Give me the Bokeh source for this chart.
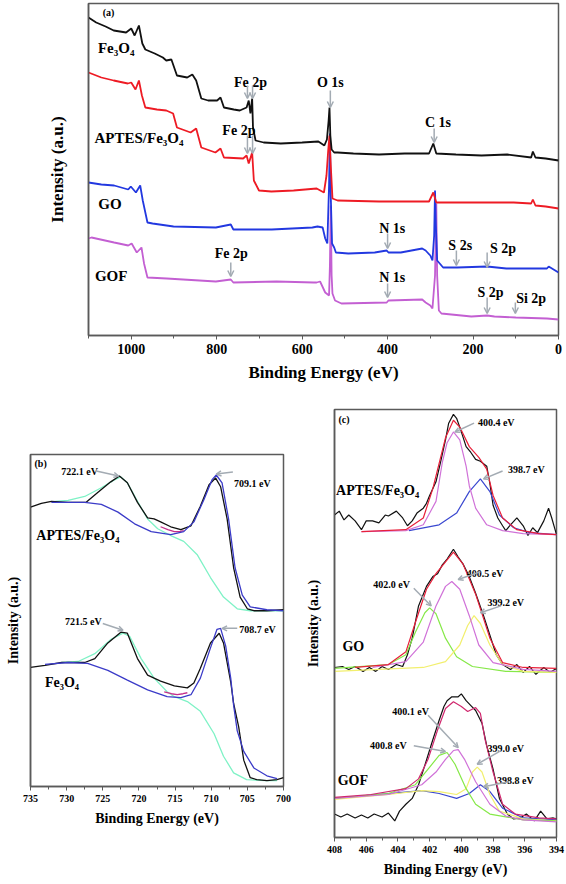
from bokeh.plotting import figure
from bokeh.layouts import column, row
from bokeh.models import Range1d, FixedTicker, Arrow, OpenHead, ColumnDataSource, Spacer
from bokeh.core.properties import value
from bokeh.embed import file_html
from bokeh.resources import INLINE

FONT = "Liberation Serif"
GRAY = "#a3abb3"
FRAME = "#5a5a5a"

# ---------------- Panel (a): survey spectra ----------------
a_fe3o4_e = [1100, 1082, 1060, 1041, 1012, 1000, 992, 982, 974, 967, 945, 926, 918, 906, 893, 869, 857, 848, 836, 820,
             799, 791, 783, 760, 746, 730, 725, 721, 717, 715, 709, 690, 650, 600, 562, 548, 542, 538, 536, 534, 531,
             525, 517, 480, 420, 360, 303, 293, 286, 240, 180, 120, 64, 60, 54, 30, 0]
a_fe3o4_i = [318, 313, 309, 305, 303, 307, 300, 310, 292, 286, 282, 278, 275, 276, 260, 258, 261, 255, 237, 235,
             235, 238, 228, 226, 225, 228, 235, 222, 237, 208, 195, 193, 192, 193, 194, 190, 196, 215, 228, 200, 186,
             183, 183, 182, 181, 182, 182, 192, 182, 181, 180, 181, 178, 184, 178, 177, 175]

a_aptes_e = [1100, 1070, 1041, 1008, 1000, 990, 982, 975, 967, 940, 918, 902, 893, 861, 848, 836, 803, 791, 783, 738,
             730, 725, 717, 713, 701, 672, 620, 566, 549, 543, 539, 536, 533, 529, 517, 420, 303, 293, 286, 200, 105,
             64, 60, 54, 30, 0]
a_aptes_i = [263, 258, 255, 252, 253, 246, 255, 240, 228, 226, 225, 222, 208, 203, 207, 188, 183, 187, 178, 177,
             180, 172, 183, 155, 145, 144, 145, 147, 143, 160, 185, 200, 170, 137, 135, 134, 134, 143, 133, 133, 133,
             132, 136, 130, 129, 127]

a_go_e = [1100, 1070, 1040, 1007, 1001, 989, 979, 973, 962, 950, 901, 802, 767, 761, 671, 576, 564, 552, 546, 541,
          537, 535, 533, 530, 525, 521, 492, 430, 402, 398, 369, 319, 311, 300, 295, 291, 289, 287, 284, 278, 270,
          237, 167, 122, 60, 27, 23, 0]
a_go_i = [153, 151, 150, 146, 149, 143, 150, 135, 113, 112, 109, 108, 111, 106, 106, 108, 109, 108, 97, 92,
          150, 202, 140, 92, 88, 83, 82, 83, 85, 83, 83, 87, 85, 80, 75, 100, 145, 110, 75, 72, 68,
          68, 69, 67, 67, 67, 69, 63]

a_gof_e = [1100, 1093, 1040, 1007, 999, 987, 976, 970, 962, 917, 802, 767, 761, 660, 573, 566, 558, 546, 537, 535,
           533, 531, 529, 523, 508, 402, 398, 319, 311, 300, 295, 289, 286, 284, 280, 274, 204, 167, 150, 100, 27, 0]
a_gof_i = [97, 98, 93, 90, 92, 83, 88, 72, 58, 57, 54, 56, 53, 54, 53, 53, 54, 43, 40, 70,
           130, 60, 42, 35, 32, 33, 35, 36, 33, 30, 27, 60, 132, 60, 25, 22, 19, 20, 19, 18, 17, 16]

a_names = ["Fe\u2083O\u2084", "APTES/Fe\u2083O\u2084", "GO", "GOF", "(a)"]
a_name_e = [1078, 1086, 1077, 1085, 1053]
a_name_i = [288, 198, 132, 60, 323]

a_peaks = ["Fe 2p", "Fe 2p", "O 1s", "C 1s", "N 1s", "S 2s", "S 2p", "N 1s", "S 2p", "Si 2p", "Fe 2p"]
a_peak_e = [721, 748, 534, 282, 389, 230, 130, 389, 159, 64, 766]
a_peak_i = [253, 205, 253, 213, 107, 90, 87, 58, 43, 37, 82]

a_arrow_e = [728, 716, 728, 716, 534, 291, 400, 239, 167, 400, 167, 101, 767]
a_arrow_i0 = [250, 250, 200, 200, 245, 207, 102, 85, 83, 52, 38, 33, 73]
a_arrow_i1 = [237, 237, 182, 182, 228, 193, 87, 70, 68, 38, 22, 22, 59]

# ---------------- Panel (b): Fe 2p ----------------
b_apt_black_e = [735, 733.5, 732.1, 729.8, 727.3, 725.7, 723.9, 722.7, 721.6, 720.2, 718.8, 717.9, 717.0, 715.6,
                 714.2, 712.8, 711.5, 710.3, 709.4, 708.7, 707.8, 706.9, 706.0, 705.0, 704.1, 702.3, 700]
b_apt_black_i = [286, 290, 292, 291, 291, 301, 312, 318, 311, 291, 275, 274, 271, 266,
                 263, 267, 287, 309, 316, 307, 274, 224, 194, 182, 180, 180, 181]
b_apt_blue_e = [732.1, 727.5, 725.2, 722.9, 720.6, 718.3, 715.6, 713.8, 712.4, 711.0, 709.9, 709.3, 708.5, 707.6,
                706.7, 705.7, 704.6, 702.3, 700]
b_apt_blue_i = [291, 291, 289, 281, 269, 261, 258, 261, 271, 294, 314, 319, 311, 274,
                224, 196, 184, 181, 180]
b_apt_green_e = [731.6, 729.8, 727.5, 725.2, 723.4, 722.5, 721.6, 720.2, 718.8, 717.4, 715.6, 713.8, 711.9, 710.1,
                 708.3, 706.4, 704.6, 700]
b_apt_green_i = [292, 293, 297, 306, 314, 317, 311, 292, 274, 264, 257, 251, 237, 214,
                 194, 182, 180, 180]
b_apt_mag_e = [717.0, 716.0, 715.1, 714.4, 713.8]
b_apt_mag_i = [266, 263, 261, 261, 262]

b_fe_black_e = [735, 733, 730.7, 727.5, 726.1, 724.3, 722.5, 721.6, 720.2, 718.8, 717.0, 715.1, 713.3, 712.4, 711.5,
                710.1, 708.9, 708.3, 707.3, 706.9, 706.2, 705.5, 704.6, 703.7, 702.3, 700.9, 700]
b_fe_black_i = [122, 124, 127, 127, 131, 147, 158, 157, 131, 114, 108, 103, 101, 106, 121,
                147, 157, 147, 107, 85, 61, 27, 9, 7, 6, 7, 9]
b_fe_blue_e = [733, 729.8, 727.1, 724.3, 721.6, 718.8, 716.1, 714.2, 712.8, 711.5, 710.1, 709.2, 708.7, 708.0, 707.3,
               706.9, 706.4, 705.5, 704.1, 702.3, 700.9]
b_fe_blue_i = [125, 127, 126, 119, 109, 99, 92, 91, 94, 111, 142, 161, 162, 144, 111,
               83, 57, 36, 19, 11, 8]
b_fe_green_e = [730.7, 728.4, 726.1, 723.8, 722.2, 721.3, 719.7, 717.9, 716.1, 715.1, 713.3, 711.5, 709.6, 708.3,
                706.9, 705.1, 702.3, 700.9]
b_fe_green_i = [127, 128, 136, 151, 157, 154, 131, 111, 97, 92, 87, 77, 54, 31,
                14, 7, 6, 6]
b_fe_mag_e = [716.5, 715.5, 714.7, 713.9, 713.3]
b_fe_mag_i = [97, 95, 94, 95, 96]

b_names = ["APTES/Fe\u2083O\u2084", "Fe\u2083O\u2084"]
b_name_e = [734.2, 733.0]
b_name_i = [257, 106]
b_peaks = ["722.1 eV", "709.1 eV", "721.5 eV", "708.7 eV"]
b_peak_e = [728.2, 704.3, 727.7, 703.6]
b_peak_i = [323, 310, 169, 161]
b_arrow_e0 = [725.9, 707.0, 725.0, 706.4]
b_arrow_i0 = [323, 322, 167, 162]
b_arrow_e1 = [722.8, 709.3, 722.2, 708.5]
b_arrow_i1 = [318, 320, 160, 162]

# ---------------- Panel (c): N 1s ----------------
c_apt_black_e = [408, 407.7, 407.4, 407.1, 406.7, 406.3, 406.0, 405.6, 405.2, 404.8, 404.6, 404.1, 403.7, 403.4,
                 403.1, 402.8, 402.4, 402.2, 402.0, 401.6, 401.3, 401.0, 400.8, 400.5, 400.3, 400.1, 399.7, 399.4,
                 399.1, 398.8, 398.4, 398.2, 398.0, 397.7, 397.4, 397.2, 396.9, 396.5, 396.1, 395.8, 395.5, 395.2,
                 394.8, 394.5, 394.3, 394]
c_apt_black_i = [330, 334, 325, 330, 324, 315, 324, 324, 322, 330, 329, 334, 327, 319,
                 324, 332, 337, 342, 350, 364, 385, 407, 424, 433, 429, 420, 400, 394,
                 387, 385, 380, 362, 340, 327, 319, 314, 320, 327, 319, 309, 317, 312,
                 324, 337, 327, 310]
c_apt_red_e = [406.3, 403.5, 402.4, 401.8, 401.0, 400.5, 400.1, 399.5, 398.9, 398.4, 398.0, 397.4, 396.5, 395.1, 394]
c_apt_red_i = [313, 315, 327, 357, 409, 427, 420, 400, 389, 377, 350, 327, 315, 311, 310]
c_apt_mag_e = [406.3, 403.5, 402.4, 401.6, 401.2, 400.9, 400.5, 400.1, 399.7, 399.5, 399.1, 398.4, 397.4, 396.1, 394]
c_apt_mag_i = [313, 314, 320, 344, 384, 404, 415, 407, 380, 360, 337, 320, 314, 311, 310]
c_apt_blue_e = [403.3, 401.4, 400.3, 399.5, 398.8, 398.2, 397.6, 396.7, 395.7, 394]
c_apt_blue_i = [314, 320, 332, 354, 367, 354, 330, 317, 312, 310]

c_go_black_e = [408, 407.5, 407.1, 406.7, 406.2, 405.8, 405.4, 405.0, 404.6, 404.1, 403.7, 403.4, 403.1, 402.7,
                402.2, 401.8, 401.5, 401.2, 400.9, 400.5, 400.2, 399.9, 399.5, 399.1, 398.6, 398.2, 397.8, 397.4,
                396.9, 396.5, 396.1, 395.7, 395.3, 394.8, 394.4, 394]
c_go_black_i = [174, 175, 172, 175, 170, 174, 170, 175, 172, 177, 175, 187, 204, 237,
                257, 267, 270, 279, 285, 295, 287, 280, 267, 250, 227, 207, 187, 177,
                172, 177, 169, 175, 167, 174, 169, 173]
c_go_red_e = [406.7, 404.6, 403.5, 402.9, 402.2, 401.6, 401.0, 400.5, 399.9, 399.1, 398.2, 397.4, 396.1, 394]
c_go_red_i = [174, 177, 190, 220, 254, 270, 282, 292, 280, 249, 204, 179, 174, 173]
c_go_green_e = [408, 404.6, 403.5, 402.9, 402.3, 402.0, 401.6, 401.0, 400.3, 399.3, 397.2, 394]
c_go_green_i = [173, 177, 187, 210, 230, 235, 229, 204, 185, 175, 170, 169]
c_go_mag_e = [405.6, 403.5, 402.4, 401.6, 401.0, 400.6, 400.1, 399.5, 398.9, 398.0, 396.1, 394]
c_go_mag_i = [174, 180, 200, 237, 257, 262, 254, 227, 197, 179, 172, 170]
c_go_yel_e = [408, 402.4, 401.0, 400.1, 399.6, 399.2, 398.8, 398.2, 397.4, 396.1, 394]
c_go_yel_i = [170, 174, 180, 197, 217, 227, 219, 197, 177, 170, 169]

c_gof_black_e = [408, 407.6, 407.2, 406.7, 406.3, 405.9, 405.5, 405.0, 404.6, 404.2, 403.9, 403.5, 403.1, 402.7,
                 402.3, 401.8, 401.4, 401.1, 400.9, 400.6, 400.2, 400.0, 399.7, 399.4, 399.1, 398.7, 398.4, 398.0,
                 397.6, 397.1, 396.7, 396.3, 395.9, 395.4, 395.0, 394.6, 394.2, 394]
c_gof_black_i = [24, 21, 24, 20, 23, 20, 24, 21, 25, 17, 27, 34, 40, 54,
                 74, 100, 120, 134, 140, 144, 144, 147, 140, 135, 130, 117, 94, 70,
                 40, 24, 19, 20, 24, 17, 27, 19, 20, 19]
c_gof_sum_e = [408, 405.7, 403.5, 402.7, 402.1, 401.5, 401.0, 400.5, 400.0, 399.6, 399.1, 398.8, 398.5, 398.0,
               397.4, 396.6, 395.1, 394]
c_gof_sum_i = [41, 44, 50, 60, 80, 110, 132, 139, 134, 129, 133, 127, 100, 67, 34, 24, 20, 19]
c_gof_green_e = [408, 404.6, 402.9, 402.1, 401.4, 400.9, 400.4, 399.7, 399.1, 398.2, 396.1, 394]
c_gof_green_i = [40, 45, 54, 70, 84, 87, 75, 50, 34, 24, 18, 17]
c_gof_mag_e = [408, 404.6, 402.5, 401.6, 401.0, 400.5, 400.2, 399.8, 399.1, 398.2, 397.2, 396.1, 394]
c_gof_mag_i = [40, 44, 54, 67, 80, 89, 90, 80, 57, 34, 22, 18, 16]
c_gof_yel_e = [408, 404.6, 402.5, 401.4, 400.3, 399.7, 399.3, 399.0, 398.7, 398.2, 397.6, 396.1, 394]
c_gof_yel_i = [39, 44, 48, 47, 44, 50, 67, 72, 67, 44, 27, 19, 17]
c_gof_blue_e = [408, 404.6, 402.5, 401.4, 400.3, 399.5, 398.8, 398.2, 397.4, 396.1, 394]
c_gof_blue_i = [40, 45, 48, 45, 40, 45, 54, 47, 30, 20, 18]

c_names = ["APTES/Fe\u2083O\u2084", "GO", "GOF", "(c)"]
c_name_e = [407.9, 407.5, 407.8, 407.4]
c_name_i = [355, 195, 58, 428]
c_peaks = ["400.4 eV", "398.7 eV", "402.0 eV", "400.5 eV", "399.2 eV", "400.1 eV", "400.8 eV", "399.0 eV", "398.8 eV"]
c_peak_e = [397.8, 395.9, 404.4, 398.5, 397.2, 403.2, 404.6, 397.2, 396.6]
c_peak_i = [425, 377, 259, 270, 240, 129, 94, 91, 58]
c_arrow_e0 = [399.2, 397.4, 403.0, 398.8, 397.5, 402.1, 403.0, 397.5, 397.0]
c_arrow_i0 = [424, 375, 255, 272, 237, 125, 94, 89, 57]
c_arrow_e1 = [400.4, 398.6, 401.9, 400.2, 398.8, 400.2, 401.0, 399.0, 398.6]
c_arrow_i1 = [415, 367, 237, 264, 230, 92, 88, 75, 52]


def make_fig(width, height, xr, yr, borders, xticks, xminor, tick_size, title_size, ytitle_standoff):
    left, right, top, bottom = borders
    p = figure(width=width, height=height, x_range=Range1d(*xr), y_range=Range1d(*yr),
               output_backend="svg", toolbar_location=None,
               min_border_left=left, min_border_right=right, min_border_top=top, min_border_bottom=bottom)
    p.xgrid.grid_line_color = None
    p.ygrid.grid_line_color = None
    p.outline_line_color = FRAME
    p.outline_line_width = 1.5
    p.background_fill_color = "white"
    p.border_fill_color = "white"
    p.xaxis.ticker = FixedTicker(ticks=xticks, minor_ticks=xminor)
    p.xaxis.axis_label = "Binding Energy (eV)"
    p.yaxis.axis_label = "Intensity (a.u.)"
    p.yaxis.ticker = FixedTicker(ticks=[])
    for ax in (p.xaxis[0], p.yaxis[0]):
        ax.axis_line_color = FRAME
        ax.axis_line_width = 1.5
        ax.major_tick_line_color = FRAME
        ax.minor_tick_line_color = FRAME
        ax.major_tick_out = 4
        ax.major_tick_in = 0
        ax.minor_tick_out = 3
        ax.minor_tick_in = 0
        ax.major_label_text_font = FONT
        ax.major_label_text_font_style = "bold"
        ax.major_label_text_font_size = f"{tick_size}px"
        ax.major_label_text_color = "black"
        ax.axis_label_text_font = FONT
        ax.axis_label_text_font_style = "bold"
        ax.axis_label_text_font_size = f"{title_size}px"
        ax.axis_label_text_color = "black"
    p.xaxis.major_label_standoff = 4
    p.xaxis.axis_label_standoff = 6
    p.yaxis.axis_label_standoff = ytitle_standoff
    return p


def add_texts(p, xs, ys, texts, size, align):
    src = ColumnDataSource(dict(x=xs, y=ys, t=texts))
    p.text(x="x", y="y", text="t", source=src, text_font=value(FONT), text_font_style="bold",
           text_font_size=f"{size}px", text_align=align, text_baseline="middle", text_color="black")


def add_arrows(p, x0, y0, x1, y1, head):
    src = ColumnDataSource(dict(x0=x0, y0=y0, x1=x1, y1=y1))
    p.add_layout(Arrow(end=OpenHead(size=head, line_color=GRAY, line_width=1.5),
                       x_start="x0", y_start="y0", x_end="x1", y_end="y1", source=src,
                       line_color=GRAY, line_width=1.5))


# ----- figure (a)
fa = make_fig(562, 387, (1100, 0), (0, 332), (88, 4, 3, 52),
              [0, 200, 400, 600, 800, 1000], [100, 300, 500, 700, 900, 1100], 14, 17, 22)
fa.line(a_gof_e, a_gof_i, line_color="#c35fd2", line_width=1.8)
fa.line(a_go_e, a_go_i, line_color="#2238e0", line_width=1.8)
fa.line(a_aptes_e, a_aptes_i, line_color="#ee1b24", line_width=1.8)
fa.line(a_fe3o4_e, a_fe3o4_i, line_color="#111111", line_width=1.8)
add_arrows(fa, a_arrow_e, a_arrow_i0, a_arrow_e, a_arrow_i1, 6)
add_texts(fa, a_name_e[:4], a_name_i[:4], a_names[:4], 15, "left")
add_texts(fa, a_name_e[4:], a_name_i[4:], a_names[4:], 10, "center")
add_texts(fa, a_peak_e, a_peak_i, a_peaks, 14, "center")

# ----- figure (b)
fb = make_fig(300, 396, (735, 700), (0, 340), (30, 17, 22, 34),
              [735, 730, 725, 720, 715, 710, 705, 700],
              [732.5, 727.5, 722.5, 717.5, 712.5, 707.5, 702.5], 10, 14, 10)
for (xe, yi, col) in [(b_apt_green_e, b_apt_green_i, "#7ff2c6"), (b_apt_mag_e, b_apt_mag_i, "#c4308c"),
                      (b_apt_black_e, b_apt_black_i, "#111111"), (b_apt_blue_e, b_apt_blue_i, "#3b3bc8"),
                      (b_fe_green_e, b_fe_green_i, "#7ff2c6"), (b_fe_mag_e, b_fe_mag_i, "#c4308c"),
                      (b_fe_black_e, b_fe_black_i, "#111111"), (b_fe_blue_e, b_fe_blue_i, "#3b3bc8")]:
    fb.line(xe, yi, line_color=col, line_width=1.3)
add_arrows(fb, b_arrow_e0, b_arrow_i0, b_arrow_e1, b_arrow_i1, 5)
add_texts(fb, b_name_e, b_name_i, b_names, 14, "left")
add_texts(fb, b_peak_e, b_peak_i, b_peaks, 10, "center")
add_texts(fb, [733.6], [331], ["(b)"], 10, "center")

# ----- figure (c)
fc = make_fig(266, 492, (408, 394), (0, 438), (34, 10, 22, 34),
              [408, 406, 404, 402, 400, 398, 396, 394], [407, 405, 403, 401, 399, 397, 395], 10, 14, 14)
for (xe, yi, col) in [(c_apt_black_e, c_apt_black_i, "#111111"), (c_apt_blue_e, c_apt_blue_i, "#3a48d0"),
                      (c_apt_mag_e, c_apt_mag_i, "#d072d8"), (c_apt_red_e, c_apt_red_i, "#e8203a"),
                      (c_go_black_e, c_go_black_i, "#111111"), (c_go_green_e, c_go_green_i, "#86e848"),
                      (c_go_yel_e, c_go_yel_i, "#f2ef6e"), (c_go_mag_e, c_go_mag_i, "#d072d8"),
                      (c_go_red_e, c_go_red_i, "#e8203a"),
                      (c_gof_black_e, c_gof_black_i, "#111111"), (c_gof_blue_e, c_gof_blue_i, "#3a48d0"),
                      (c_gof_yel_e, c_gof_yel_i, "#f2ef6e"), (c_gof_green_e, c_gof_green_i, "#86e848"),
                      (c_gof_mag_e, c_gof_mag_i, "#d072d8"), (c_gof_sum_e, c_gof_sum_i, "#d0286e")]:
    fc.line(xe, yi, line_color=col, line_width=1.2)
add_arrows(fc, c_arrow_e0, c_arrow_i0, c_arrow_e1, c_arrow_i1, 5)
add_texts(fc, c_name_e[:3], c_name_i[:3], c_names[:3], 14, "left")
add_texts(fc, c_name_e[3:], c_name_i[3:], c_names[3:], 10, "center")
add_texts(fc, c_peak_e, c_peak_i, c_peaks, 10, "center")

layout = column(fa, row(column(Spacer(width=300, height=45), fb), fc))
open("out.html", "w").write(file_html(layout, INLINE))
